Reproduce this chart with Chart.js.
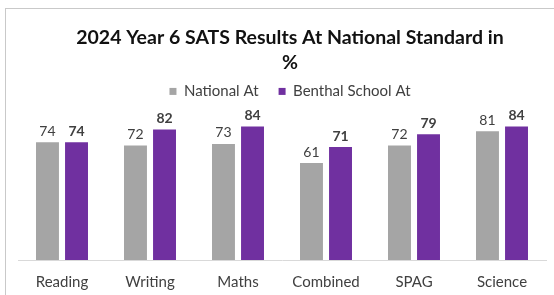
<!DOCTYPE html>
<html>
<head>
<meta charset="utf-8">
<script src="https://cdn.jsdelivr.net/npm/chart.js@4"></script>
<style>
  body { margin: 0; background: #fff; overflow: hidden; }
  #wrap {
    position: absolute; left: 5px; top: 8px;
    width: 560px; height: 295px;
    border-top: 1px solid #c9c9c9; border-left: 1px solid #c9c9c9;
  }
</style>
</head>
<body>
<div id="wrap"><canvas id="chart" width="560" height="295"></canvas></div>
<script>
// categories and series (percent at national standard)
const subjects = ['Reading', 'Writing', 'Maths', 'Combined', 'SPAG', 'Science'];
const nationalAt = [74, 72, 73, 61, 72, 81];
const benthalAt = [74, 82, 84, 71, 79, 84];

// draw the value above each bar
const valueLabels = {
    id: 'valueLabels',
    afterDatasetsDraw(chart) {
        const c = chart.ctx;
        chart.data.datasets.forEach((ds, i) => {
            const meta = chart.getDatasetMeta(i);
            c.save();
            c.font = (i === 1 ? 'bold ' : '') + '14px Lato';
            c.fillStyle = '#404040';
            c.textAlign = 'center';
            c.textBaseline = 'bottom';
            meta.data.forEach((bar, j) => {
                c.fillText(ds.data[j], bar.x, bar.y - 4);
            });
            c.restore();
        });
    }
};

const ctx = document.getElementById('chart').getContext('2d');
new Chart(ctx, {
    type: 'bar',
    data: {
        labels: subjects,
        datasets: [
            { label: 'National At', data: nationalAt, backgroundColor: '#a5a5a5' },
            { label: 'Benthal School At', data: benthalAt, backgroundColor: '#7030a0' }
        ]
    },
    options: {
        responsive: false,
        animation: false,
        categoryPercentage: 0.66,
        barPercentage: 0.79,
        layout: { padding: { left: 12, right: 4, top: 0, bottom: 0 } },
        plugins: {
            title: {
                display: true,
                text: ['2024 Year 6 SATS Results At National Standard in', '%'],
                color: '#111',
                font: { family: 'Lato', size: 19.5, weight: 'bold', lineHeight: 1.28 },
                padding: { top: 16, bottom: -11 }
            },
            legend: {
                labels: {
                    font: { family: 'Lato', size: 15 },
                    color: '#404040',
                    boxWidth: 7,
                    boxHeight: 7,
                    padding: 20
                }
            },
            tooltip: { enabled: false }
        },
        scales: {
            x: {
                grid: { display: false, drawTicks: false },
                border: { color: '#d9d9d9' },
                ticks: { font: { family: 'Lato', size: 15 }, color: '#404040', padding: 13 }
            },
            y: {
                position: 'right',
                min: 0, max: 95,
                grid: { display: false, drawTicks: false },
                border: { display: false },
                ticks: { display: false },
                afterFit(scale) { scale.width = 16; }
            }
        }
    },
    plugins: [valueLabels]
});
</script>
</body>
</html>
